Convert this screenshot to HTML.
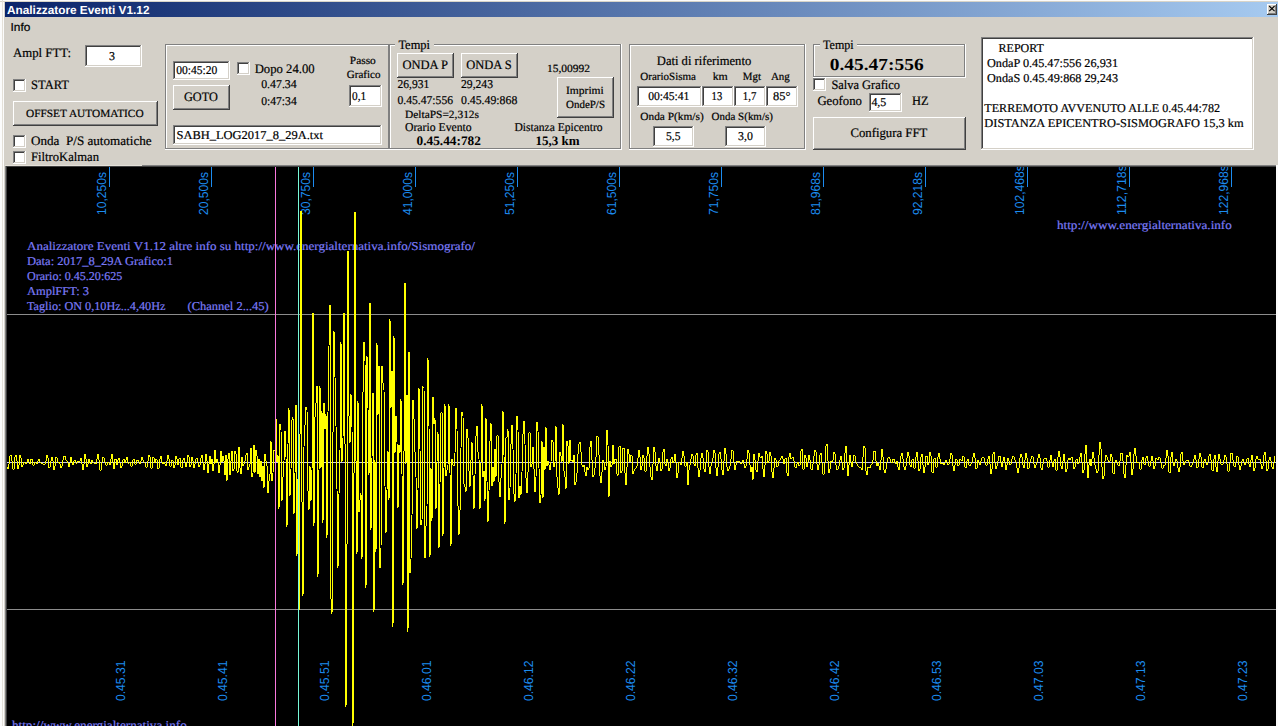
<!DOCTYPE html>
<html><head><meta charset="utf-8"><title>Analizzatore Eventi</title>
<style>html,body{margin:0;padding:0;overflow:hidden;background:#f2f2f2;width:1278px;height:726px} svg{display:block} text{shape-rendering:auto}</style>
</head><body>
<svg width="1278" height="726" viewBox="0 0 1278 726" shape-rendering="crispEdges" text-rendering="geometricPrecision"><rect x="0" y="0" width="1278" height="726" fill="#fbfbfb"/>
<rect x="0" y="1" width="1278" height="1" fill="#d8d4c8"/>
<rect x="2" y="0" width="1" height="726" fill="#e4e0d8"/>
<rect x="4" y="2" width="1" height="724" fill="#d4d0c8"/>
<rect x="5" y="2" width="1273" height="724" fill="#d4d0c8"/>
<defs><linearGradient id="tg" x1="0" x2="1" y1="0" y2="0"><stop offset="0" stop-color="#0a246a"/><stop offset="1" stop-color="#a6caf0"/></linearGradient></defs>
<rect x="5" y="2" width="1273" height="15" fill="url(#tg)"/>
<text x="7.0" y="13.8" font-family="Liberation Sans" font-size="11.8" font-weight="700" fill="#fff" textLength="142.5" lengthAdjust="spacingAndGlyphs">Analizzatore Eventi V1.12</text>
<rect x="1267" y="4" width="10" height="11" fill="#d4d0c8"/>
<rect x="1267" y="4" width="10" height="1" fill="#ffffff"/>
<rect x="1267" y="4" width="1" height="11" fill="#ffffff"/>
<rect x="1267" y="14" width="10" height="1" fill="#404040"/>
<rect x="1276" y="4" width="1" height="11" fill="#404040"/>
<rect x="1268" y="13" width="8" height="1" fill="#808080"/>
<rect x="1275" y="5" width="1" height="9" fill="#808080"/>
<path d="M1269.2 6 L1274.6 11.2 M1274.6 6 L1269.2 11.2" stroke="#000" stroke-width="1.05" shape-rendering="auto"/>
<text x="10.5" y="31.0" font-family="Liberation Sans" font-size="11.5" font-weight="400" fill="#000" stroke="#000" stroke-width="0.2" textLength="19.8" lengthAdjust="spacingAndGlyphs">Info</text>
<text x="13.0" y="57.0" font-family="Liberation Serif" font-size="13" font-weight="400" fill="#000" stroke="#000" stroke-width="0.2" textLength="58.0" lengthAdjust="spacingAndGlyphs">Ampl FTT:</text>
<rect x="85" y="45" width="57" height="22" fill="#fff"/>
<rect x="85" y="45" width="57" height="1" fill="#808080"/>
<rect x="85" y="45" width="1" height="22" fill="#808080"/>
<rect x="86" y="46" width="55" height="1" fill="#404040"/>
<rect x="86" y="46" width="1" height="20" fill="#404040"/>
<rect x="85" y="66" width="57" height="1" fill="#ffffff"/>
<rect x="141" y="45" width="1" height="22" fill="#ffffff"/>
<rect x="86" y="65" width="55" height="1" fill="#d4d0c8"/>
<rect x="140" y="46" width="1" height="20" fill="#d4d0c8"/>
<text x="109.0" y="60.0" font-family="Liberation Serif" font-size="12" font-weight="400" fill="#000" stroke="#000" stroke-width="0.2">3</text>
<rect x="13" y="79" width="13" height="13" fill="#fff"/>
<rect x="13" y="79" width="13" height="1" fill="#808080"/>
<rect x="13" y="79" width="1" height="13" fill="#808080"/>
<rect x="14" y="80" width="11" height="1" fill="#404040"/>
<rect x="14" y="80" width="1" height="11" fill="#404040"/>
<rect x="13" y="91" width="13" height="1" fill="#ffffff"/>
<rect x="25" y="79" width="1" height="13" fill="#ffffff"/>
<rect x="14" y="90" width="11" height="1" fill="#d4d0c8"/>
<rect x="24" y="80" width="1" height="11" fill="#d4d0c8"/>
<text x="31.0" y="88.5" font-family="Liberation Serif" font-size="13" font-weight="400" fill="#000" stroke="#000" stroke-width="0.2" textLength="38.0" lengthAdjust="spacingAndGlyphs">START</text>
<rect x="13" y="101" width="145" height="25" fill="#d4d0c8"/>
<rect x="13" y="101" width="145" height="1" fill="#ffffff"/>
<rect x="13" y="101" width="1" height="25" fill="#ffffff"/>
<rect x="13" y="125" width="145" height="1" fill="#404040"/>
<rect x="157" y="101" width="1" height="25" fill="#404040"/>
<rect x="14" y="124" width="143" height="1" fill="#808080"/>
<rect x="156" y="102" width="1" height="23" fill="#808080"/>
<text x="26.0" y="116.5" font-family="Liberation Serif" font-size="11" font-weight="400" fill="#000" stroke="#000" stroke-width="0.2" textLength="117.6" lengthAdjust="spacingAndGlyphs">OFFSET AUTOMATICO</text>
<rect x="13" y="135" width="13" height="13" fill="#fff"/>
<rect x="13" y="135" width="13" height="1" fill="#808080"/>
<rect x="13" y="135" width="1" height="13" fill="#808080"/>
<rect x="14" y="136" width="11" height="1" fill="#404040"/>
<rect x="14" y="136" width="1" height="11" fill="#404040"/>
<rect x="13" y="147" width="13" height="1" fill="#ffffff"/>
<rect x="25" y="135" width="1" height="13" fill="#ffffff"/>
<rect x="14" y="146" width="11" height="1" fill="#d4d0c8"/>
<rect x="24" y="136" width="1" height="11" fill="#d4d0c8"/>
<text x="31.0" y="144.6" font-family="Liberation Serif" font-size="13" font-weight="400" fill="#000" stroke="#000" stroke-width="0.2" textLength="120.6" lengthAdjust="spacingAndGlyphs">Onda  P/S automatiche</text>
<rect x="13" y="151" width="13" height="13" fill="#fff"/>
<rect x="13" y="151" width="13" height="1" fill="#808080"/>
<rect x="13" y="151" width="1" height="13" fill="#808080"/>
<rect x="14" y="152" width="11" height="1" fill="#404040"/>
<rect x="14" y="152" width="1" height="11" fill="#404040"/>
<rect x="13" y="163" width="13" height="1" fill="#ffffff"/>
<rect x="25" y="151" width="1" height="13" fill="#ffffff"/>
<rect x="14" y="162" width="11" height="1" fill="#d4d0c8"/>
<rect x="24" y="152" width="1" height="11" fill="#d4d0c8"/>
<text x="31.0" y="161.2" font-family="Liberation Serif" font-size="13" font-weight="400" fill="#000" stroke="#000" stroke-width="0.2" textLength="68.0" lengthAdjust="spacingAndGlyphs">FiltroKalman</text>
<rect x="165" y="44" width="224" height="1" fill="#808080"/>
<rect x="165" y="44" width="1" height="105" fill="#808080"/>
<rect x="165" y="148" width="224" height="1" fill="#808080"/>
<rect x="388" y="44" width="1" height="105" fill="#808080"/>
<rect x="166" y="45" width="222" height="1" fill="#ffffff"/>
<rect x="166" y="45" width="1" height="103" fill="#ffffff"/>
<rect x="165" y="149" width="225" height="1" fill="#ffffff"/>
<rect x="389" y="44" width="1" height="106" fill="#ffffff"/>
<rect x="173" y="61" width="57" height="19" fill="#fff"/>
<rect x="173" y="61" width="57" height="1" fill="#808080"/>
<rect x="173" y="61" width="1" height="19" fill="#808080"/>
<rect x="174" y="62" width="55" height="1" fill="#404040"/>
<rect x="174" y="62" width="1" height="17" fill="#404040"/>
<rect x="173" y="79" width="57" height="1" fill="#ffffff"/>
<rect x="229" y="61" width="1" height="19" fill="#ffffff"/>
<rect x="174" y="78" width="55" height="1" fill="#d4d0c8"/>
<rect x="228" y="62" width="1" height="17" fill="#d4d0c8"/>
<text x="176.3" y="74.3" font-family="Liberation Serif" font-size="12" font-weight="400" fill="#000" stroke="#000" stroke-width="0.2" textLength="41.0" lengthAdjust="spacingAndGlyphs">00:45:20</text>
<rect x="173" y="85" width="57" height="25" fill="#d4d0c8"/>
<rect x="173" y="85" width="57" height="1" fill="#ffffff"/>
<rect x="173" y="85" width="1" height="25" fill="#ffffff"/>
<rect x="173" y="109" width="57" height="1" fill="#404040"/>
<rect x="229" y="85" width="1" height="25" fill="#404040"/>
<rect x="174" y="108" width="55" height="1" fill="#808080"/>
<rect x="228" y="86" width="1" height="23" fill="#808080"/>
<text x="184.0" y="100.8" font-family="Liberation Serif" font-size="13" font-weight="400" fill="#000" stroke="#000" stroke-width="0.2" textLength="33.8" lengthAdjust="spacingAndGlyphs">GOTO</text>
<rect x="237" y="62" width="13" height="13" fill="#fff"/>
<rect x="237" y="62" width="13" height="1" fill="#808080"/>
<rect x="237" y="62" width="1" height="13" fill="#808080"/>
<rect x="238" y="63" width="11" height="1" fill="#404040"/>
<rect x="238" y="63" width="1" height="11" fill="#404040"/>
<rect x="237" y="74" width="13" height="1" fill="#ffffff"/>
<rect x="249" y="62" width="1" height="13" fill="#ffffff"/>
<rect x="238" y="73" width="11" height="1" fill="#d4d0c8"/>
<rect x="248" y="63" width="1" height="11" fill="#d4d0c8"/>
<text x="254.7" y="72.8" font-family="Liberation Serif" font-size="13" font-weight="400" fill="#000" stroke="#000" stroke-width="0.2" textLength="59.9" lengthAdjust="spacingAndGlyphs">Dopo 24.00</text>
<text x="261.2" y="88.4" font-family="Liberation Serif" font-size="12" font-weight="400" fill="#000" stroke="#000" stroke-width="0.2" textLength="35.5" lengthAdjust="spacingAndGlyphs">0.47.34</text>
<text x="261.2" y="104.6" font-family="Liberation Serif" font-size="12" font-weight="400" fill="#000" stroke="#000" stroke-width="0.2" textLength="35.5" lengthAdjust="spacingAndGlyphs">0:47:34</text>
<text x="349.8" y="63.8" font-family="Liberation Serif" font-size="11" font-weight="400" fill="#000" stroke="#000" stroke-width="0.2" textLength="26.0" lengthAdjust="spacingAndGlyphs">Passo</text>
<text x="346.8" y="77.5" font-family="Liberation Serif" font-size="11" font-weight="400" fill="#000" stroke="#000" stroke-width="0.2" textLength="33.7" lengthAdjust="spacingAndGlyphs">Grafico</text>
<rect x="349" y="85" width="33" height="22" fill="#fff"/>
<rect x="349" y="85" width="33" height="1" fill="#808080"/>
<rect x="349" y="85" width="1" height="22" fill="#808080"/>
<rect x="350" y="86" width="31" height="1" fill="#404040"/>
<rect x="350" y="86" width="1" height="20" fill="#404040"/>
<rect x="349" y="106" width="33" height="1" fill="#ffffff"/>
<rect x="381" y="85" width="1" height="22" fill="#ffffff"/>
<rect x="350" y="105" width="31" height="1" fill="#d4d0c8"/>
<rect x="380" y="86" width="1" height="20" fill="#d4d0c8"/>
<text x="352.1" y="99.6" font-family="Liberation Serif" font-size="12" font-weight="400" fill="#000" stroke="#000" stroke-width="0.2" textLength="14.1" lengthAdjust="spacingAndGlyphs">0,1</text>
<rect x="173" y="125" width="209" height="20" fill="#fff"/>
<rect x="173" y="125" width="209" height="1" fill="#808080"/>
<rect x="173" y="125" width="1" height="20" fill="#808080"/>
<rect x="174" y="126" width="207" height="1" fill="#404040"/>
<rect x="174" y="126" width="1" height="18" fill="#404040"/>
<rect x="173" y="144" width="209" height="1" fill="#ffffff"/>
<rect x="381" y="125" width="1" height="20" fill="#ffffff"/>
<rect x="174" y="143" width="207" height="1" fill="#d4d0c8"/>
<rect x="380" y="126" width="1" height="18" fill="#d4d0c8"/>
<text x="176.5" y="138.5" font-family="Liberation Serif" font-size="12" font-weight="400" fill="#000" stroke="#000" stroke-width="0.2" textLength="146.5" lengthAdjust="spacingAndGlyphs">SABH_LOG2017_8_29A.txt</text>
<rect x="389" y="44" width="232" height="1" fill="#808080"/>
<rect x="389" y="44" width="1" height="105" fill="#808080"/>
<rect x="389" y="148" width="232" height="1" fill="#808080"/>
<rect x="620" y="44" width="1" height="105" fill="#808080"/>
<rect x="390" y="45" width="230" height="1" fill="#ffffff"/>
<rect x="390" y="45" width="1" height="103" fill="#ffffff"/>
<rect x="389" y="149" width="233" height="1" fill="#ffffff"/>
<rect x="621" y="44" width="1" height="106" fill="#ffffff"/>
<rect x="395" y="38" width="39" height="10" fill="#d4d0c8"/>
<text x="398.4" y="48.9" font-family="Liberation Serif" font-size="13" font-weight="400" fill="#000" stroke="#000" stroke-width="0.2" textLength="31.6" lengthAdjust="spacingAndGlyphs">Tempi</text>
<rect x="397" y="53" width="57" height="25" fill="#d4d0c8"/>
<rect x="397" y="53" width="57" height="1" fill="#ffffff"/>
<rect x="397" y="53" width="1" height="25" fill="#ffffff"/>
<rect x="397" y="77" width="57" height="1" fill="#404040"/>
<rect x="453" y="53" width="1" height="25" fill="#404040"/>
<rect x="398" y="76" width="55" height="1" fill="#808080"/>
<rect x="452" y="54" width="1" height="23" fill="#808080"/>
<text x="402.4" y="68.8" font-family="Liberation Serif" font-size="13" font-weight="400" fill="#000" stroke="#000" stroke-width="0.2" textLength="45.6" lengthAdjust="spacingAndGlyphs">ONDA P</text>
<rect x="461" y="53" width="57" height="25" fill="#d4d0c8"/>
<rect x="461" y="53" width="57" height="1" fill="#ffffff"/>
<rect x="461" y="53" width="1" height="25" fill="#ffffff"/>
<rect x="461" y="77" width="57" height="1" fill="#404040"/>
<rect x="517" y="53" width="1" height="25" fill="#404040"/>
<rect x="462" y="76" width="55" height="1" fill="#808080"/>
<rect x="516" y="54" width="1" height="23" fill="#808080"/>
<text x="466.2" y="68.8" font-family="Liberation Serif" font-size="13" font-weight="400" fill="#000" stroke="#000" stroke-width="0.2" textLength="45.5" lengthAdjust="spacingAndGlyphs">ONDA S</text>
<text x="397.5" y="87.8" font-family="Liberation Serif" font-size="12" font-weight="400" fill="#000" stroke="#000" stroke-width="0.2" textLength="31.7" lengthAdjust="spacingAndGlyphs">26,931</text>
<text x="461.0" y="87.6" font-family="Liberation Serif" font-size="12" font-weight="400" fill="#000" stroke="#000" stroke-width="0.2" textLength="32.0" lengthAdjust="spacingAndGlyphs">29,243</text>
<text x="546.9" y="71.7" font-family="Liberation Serif" font-size="11" font-weight="400" fill="#000" stroke="#000" stroke-width="0.2" textLength="43.1" lengthAdjust="spacingAndGlyphs">15,00992</text>
<text x="397.5" y="103.6" font-family="Liberation Serif" font-size="12" font-weight="400" fill="#000" stroke="#000" stroke-width="0.2" textLength="55.5" lengthAdjust="spacingAndGlyphs">0.45.47:556</text>
<text x="461.0" y="103.7" font-family="Liberation Serif" font-size="12" font-weight="400" fill="#000" stroke="#000" stroke-width="0.2" textLength="56.3" lengthAdjust="spacingAndGlyphs">0.45.49:868</text>
<rect x="557" y="77" width="57" height="41" fill="#d4d0c8"/>
<rect x="557" y="77" width="57" height="1" fill="#ffffff"/>
<rect x="557" y="77" width="1" height="41" fill="#ffffff"/>
<rect x="557" y="117" width="57" height="1" fill="#404040"/>
<rect x="613" y="77" width="1" height="41" fill="#404040"/>
<rect x="558" y="116" width="55" height="1" fill="#808080"/>
<rect x="612" y="78" width="1" height="39" fill="#808080"/>
<text x="566.0" y="93.8" font-family="Liberation Serif" font-size="11" font-weight="400" fill="#000" stroke="#000" stroke-width="0.2" textLength="37.8" lengthAdjust="spacingAndGlyphs">Imprimi</text>
<text x="566.0" y="107.6" font-family="Liberation Serif" font-size="11" font-weight="400" fill="#000" stroke="#000" stroke-width="0.2" textLength="39.0" lengthAdjust="spacingAndGlyphs">OndeP/S</text>
<text x="405.0" y="117.6" font-family="Liberation Serif" font-size="11" font-weight="400" fill="#000" stroke="#000" stroke-width="0.2" textLength="74.0" lengthAdjust="spacingAndGlyphs">DeltaPS=2,312s</text>
<text x="405.0" y="131.0" font-family="Liberation Serif" font-size="12" font-weight="400" fill="#000" stroke="#000" stroke-width="0.2" textLength="66.7" lengthAdjust="spacingAndGlyphs">Orario Evento</text>
<text x="416.6" y="144.5" font-family="Liberation Serif" font-size="13" font-weight="700" fill="#000" textLength="64.3" lengthAdjust="spacingAndGlyphs">0.45.44:782</text>
<text x="514.4" y="131.0" font-family="Liberation Serif" font-size="12" font-weight="400" fill="#000" stroke="#000" stroke-width="0.2" textLength="88.2" lengthAdjust="spacingAndGlyphs">Distanza Epicentro</text>
<text x="535.5" y="144.5" font-family="Liberation Serif" font-size="13" font-weight="700" fill="#000" textLength="44.1" lengthAdjust="spacingAndGlyphs">15,3 km</text>
<rect x="629" y="44" width="176" height="1" fill="#808080"/>
<rect x="629" y="44" width="1" height="105" fill="#808080"/>
<rect x="629" y="148" width="176" height="1" fill="#808080"/>
<rect x="804" y="44" width="1" height="105" fill="#808080"/>
<rect x="630" y="45" width="174" height="1" fill="#ffffff"/>
<rect x="630" y="45" width="1" height="103" fill="#ffffff"/>
<rect x="629" y="149" width="177" height="1" fill="#ffffff"/>
<rect x="805" y="44" width="1" height="106" fill="#ffffff"/>
<text x="656.8" y="64.9" font-family="Liberation Serif" font-size="13" font-weight="400" fill="#000" stroke="#000" stroke-width="0.2" textLength="94.4" lengthAdjust="spacingAndGlyphs">Dati di riferimento</text>
<text x="640.3" y="79.6" font-family="Liberation Serif" font-size="11" font-weight="400" fill="#000" stroke="#000" stroke-width="0.2" textLength="55.7" lengthAdjust="spacingAndGlyphs">OrarioSisma</text>
<text x="712.7" y="79.6" font-family="Liberation Serif" font-size="11" font-weight="400" fill="#000" stroke="#000" stroke-width="0.2" textLength="15.1" lengthAdjust="spacingAndGlyphs">km</text>
<text x="742.8" y="79.6" font-family="Liberation Serif" font-size="11" font-weight="400" fill="#000" stroke="#000" stroke-width="0.2" textLength="18.2" lengthAdjust="spacingAndGlyphs">Mgt</text>
<text x="770.9" y="79.6" font-family="Liberation Serif" font-size="11" font-weight="400" fill="#000" stroke="#000" stroke-width="0.2" textLength="19.0" lengthAdjust="spacingAndGlyphs">Ang</text>
<rect x="637" y="86" width="65" height="21" fill="#fff"/>
<rect x="637" y="86" width="65" height="1" fill="#808080"/>
<rect x="637" y="86" width="1" height="21" fill="#808080"/>
<rect x="638" y="87" width="63" height="1" fill="#404040"/>
<rect x="638" y="87" width="1" height="19" fill="#404040"/>
<rect x="637" y="106" width="65" height="1" fill="#ffffff"/>
<rect x="701" y="86" width="1" height="21" fill="#ffffff"/>
<rect x="638" y="105" width="63" height="1" fill="#d4d0c8"/>
<rect x="700" y="87" width="1" height="19" fill="#d4d0c8"/>
<rect x="702" y="86" width="32" height="21" fill="#fff"/>
<rect x="702" y="86" width="32" height="1" fill="#808080"/>
<rect x="702" y="86" width="1" height="21" fill="#808080"/>
<rect x="703" y="87" width="30" height="1" fill="#404040"/>
<rect x="703" y="87" width="1" height="19" fill="#404040"/>
<rect x="702" y="106" width="32" height="1" fill="#ffffff"/>
<rect x="733" y="86" width="1" height="21" fill="#ffffff"/>
<rect x="703" y="105" width="30" height="1" fill="#d4d0c8"/>
<rect x="732" y="87" width="1" height="19" fill="#d4d0c8"/>
<rect x="734" y="86" width="32" height="21" fill="#fff"/>
<rect x="734" y="86" width="32" height="1" fill="#808080"/>
<rect x="734" y="86" width="1" height="21" fill="#808080"/>
<rect x="735" y="87" width="30" height="1" fill="#404040"/>
<rect x="735" y="87" width="1" height="19" fill="#404040"/>
<rect x="734" y="106" width="32" height="1" fill="#ffffff"/>
<rect x="765" y="86" width="1" height="21" fill="#ffffff"/>
<rect x="735" y="105" width="30" height="1" fill="#d4d0c8"/>
<rect x="764" y="87" width="1" height="19" fill="#d4d0c8"/>
<rect x="766" y="86" width="32" height="21" fill="#fff"/>
<rect x="766" y="86" width="32" height="1" fill="#808080"/>
<rect x="766" y="86" width="1" height="21" fill="#808080"/>
<rect x="767" y="87" width="30" height="1" fill="#404040"/>
<rect x="767" y="87" width="1" height="19" fill="#404040"/>
<rect x="766" y="106" width="32" height="1" fill="#ffffff"/>
<rect x="797" y="86" width="1" height="21" fill="#ffffff"/>
<rect x="767" y="105" width="30" height="1" fill="#d4d0c8"/>
<rect x="796" y="87" width="1" height="19" fill="#d4d0c8"/>
<text x="648.2" y="99.9" font-family="Liberation Serif" font-size="12" font-weight="400" fill="#000" stroke="#000" stroke-width="0.2" textLength="41.2" lengthAdjust="spacingAndGlyphs">00:45:41</text>
<text x="711.6" y="99.9" font-family="Liberation Serif" font-size="12" font-weight="400" fill="#000" stroke="#000" stroke-width="0.2" textLength="10.6" lengthAdjust="spacingAndGlyphs">13</text>
<text x="742.8" y="99.9" font-family="Liberation Serif" font-size="12" font-weight="400" fill="#000" stroke="#000" stroke-width="0.2" textLength="13.5" lengthAdjust="spacingAndGlyphs">1,7</text>
<text x="773.0" y="99.9" font-family="Liberation Serif" font-size="12" font-weight="400" fill="#000" stroke="#000" stroke-width="0.2" textLength="17.4" lengthAdjust="spacingAndGlyphs">85°</text>
<text x="640.3" y="120.0" font-family="Liberation Serif" font-size="11" font-weight="400" fill="#000" stroke="#000" stroke-width="0.2" textLength="63.4" lengthAdjust="spacingAndGlyphs">Onda P(km/s)</text>
<text x="711.6" y="120.0" font-family="Liberation Serif" font-size="11" font-weight="400" fill="#000" stroke="#000" stroke-width="0.2" textLength="61.3" lengthAdjust="spacingAndGlyphs">Onda S(km/s)</text>
<rect x="653" y="126" width="41" height="21" fill="#fff"/>
<rect x="653" y="126" width="41" height="1" fill="#808080"/>
<rect x="653" y="126" width="1" height="21" fill="#808080"/>
<rect x="654" y="127" width="39" height="1" fill="#404040"/>
<rect x="654" y="127" width="1" height="19" fill="#404040"/>
<rect x="653" y="146" width="41" height="1" fill="#ffffff"/>
<rect x="693" y="126" width="1" height="21" fill="#ffffff"/>
<rect x="654" y="145" width="39" height="1" fill="#d4d0c8"/>
<rect x="692" y="127" width="1" height="19" fill="#d4d0c8"/>
<text x="666.0" y="140.2" font-family="Liberation Serif" font-size="12" font-weight="400" fill="#000" stroke="#000" stroke-width="0.2" textLength="14.5" lengthAdjust="spacingAndGlyphs">5,5</text>
<rect x="725" y="126" width="41" height="21" fill="#fff"/>
<rect x="725" y="126" width="41" height="1" fill="#808080"/>
<rect x="725" y="126" width="1" height="21" fill="#808080"/>
<rect x="726" y="127" width="39" height="1" fill="#404040"/>
<rect x="726" y="127" width="1" height="19" fill="#404040"/>
<rect x="725" y="146" width="41" height="1" fill="#ffffff"/>
<rect x="765" y="126" width="1" height="21" fill="#ffffff"/>
<rect x="726" y="145" width="39" height="1" fill="#d4d0c8"/>
<rect x="764" y="127" width="1" height="19" fill="#d4d0c8"/>
<text x="738.0" y="140.2" font-family="Liberation Serif" font-size="12" font-weight="400" fill="#000" stroke="#000" stroke-width="0.2" textLength="14.8" lengthAdjust="spacingAndGlyphs">3,0</text>
<rect x="813" y="44" width="152" height="1" fill="#808080"/>
<rect x="813" y="44" width="1" height="33" fill="#808080"/>
<rect x="813" y="76" width="152" height="1" fill="#808080"/>
<rect x="964" y="44" width="1" height="33" fill="#808080"/>
<rect x="814" y="45" width="150" height="1" fill="#ffffff"/>
<rect x="814" y="45" width="1" height="31" fill="#ffffff"/>
<rect x="813" y="77" width="153" height="1" fill="#ffffff"/>
<rect x="965" y="44" width="1" height="34" fill="#ffffff"/>
<rect x="820" y="38" width="37" height="10" fill="#d4d0c8"/>
<text x="823.1" y="49.0" font-family="Liberation Serif" font-size="13" font-weight="400" fill="#000" stroke="#000" stroke-width="0.2" textLength="30.6" lengthAdjust="spacingAndGlyphs">Tempi</text>
<text x="829.8" y="69.7" font-family="Liberation Serif" font-size="17" font-weight="700" fill="#000" textLength="93.8" lengthAdjust="spacingAndGlyphs">0.45.47:556</text>
<rect x="813" y="78" width="13" height="13" fill="#fff"/>
<rect x="813" y="78" width="13" height="1" fill="#808080"/>
<rect x="813" y="78" width="1" height="13" fill="#808080"/>
<rect x="814" y="79" width="11" height="1" fill="#404040"/>
<rect x="814" y="79" width="1" height="11" fill="#404040"/>
<rect x="813" y="90" width="13" height="1" fill="#ffffff"/>
<rect x="825" y="78" width="1" height="13" fill="#ffffff"/>
<rect x="814" y="89" width="11" height="1" fill="#d4d0c8"/>
<rect x="824" y="79" width="1" height="11" fill="#d4d0c8"/>
<text x="831.4" y="88.7" font-family="Liberation Serif" font-size="13" font-weight="400" fill="#000" stroke="#000" stroke-width="0.2" textLength="68.6" lengthAdjust="spacingAndGlyphs">Salva Grafico</text>
<text x="817.4" y="104.8" font-family="Liberation Serif" font-size="13" font-weight="400" fill="#000" stroke="#000" stroke-width="0.2" textLength="44.6" lengthAdjust="spacingAndGlyphs">Geofono</text>
<rect x="869" y="93" width="33" height="19" fill="#fff"/>
<rect x="869" y="93" width="33" height="1" fill="#808080"/>
<rect x="869" y="93" width="1" height="19" fill="#808080"/>
<rect x="870" y="94" width="31" height="1" fill="#404040"/>
<rect x="870" y="94" width="1" height="17" fill="#404040"/>
<rect x="869" y="111" width="33" height="1" fill="#ffffff"/>
<rect x="901" y="93" width="1" height="19" fill="#ffffff"/>
<rect x="870" y="110" width="31" height="1" fill="#d4d0c8"/>
<rect x="900" y="94" width="1" height="17" fill="#d4d0c8"/>
<text x="871.4" y="106.4" font-family="Liberation Serif" font-size="12" font-weight="400" fill="#000" stroke="#000" stroke-width="0.2" textLength="14.9" lengthAdjust="spacingAndGlyphs">4,5</text>
<text x="912.0" y="104.8" font-family="Liberation Serif" font-size="13" font-weight="400" fill="#000" stroke="#000" stroke-width="0.2" textLength="16.6" lengthAdjust="spacingAndGlyphs">HZ</text>
<rect x="813" y="117" width="153" height="33" fill="#d4d0c8"/>
<rect x="813" y="117" width="153" height="1" fill="#ffffff"/>
<rect x="813" y="117" width="1" height="33" fill="#ffffff"/>
<rect x="813" y="149" width="153" height="1" fill="#404040"/>
<rect x="965" y="117" width="1" height="33" fill="#404040"/>
<rect x="814" y="148" width="151" height="1" fill="#808080"/>
<rect x="964" y="118" width="1" height="31" fill="#808080"/>
<text x="850.4" y="136.7" font-family="Liberation Serif" font-size="13" font-weight="400" fill="#000" stroke="#000" stroke-width="0.2" textLength="76.9" lengthAdjust="spacingAndGlyphs">Configura FFT</text>
<rect x="981" y="37" width="273" height="113" fill="#fff"/>
<rect x="981" y="37" width="273" height="1" fill="#808080"/>
<rect x="981" y="37" width="1" height="113" fill="#808080"/>
<rect x="982" y="38" width="271" height="1" fill="#404040"/>
<rect x="982" y="38" width="1" height="111" fill="#404040"/>
<rect x="981" y="149" width="273" height="1" fill="#ffffff"/>
<rect x="1253" y="37" width="1" height="113" fill="#ffffff"/>
<rect x="982" y="148" width="271" height="1" fill="#d4d0c8"/>
<rect x="1252" y="38" width="1" height="111" fill="#d4d0c8"/>
<text x="998.6" y="51.8" font-family="Liberation Serif" font-size="12" font-weight="400" fill="#000" stroke="#000" stroke-width="0.2">REPORT</text>
<text x="987.0" y="66.7" font-family="Liberation Serif" font-size="12" font-weight="400" fill="#000" stroke="#000" stroke-width="0.2" textLength="131.0" lengthAdjust="spacingAndGlyphs">OndaP 0.45.47:556 26,931</text>
<text x="987.0" y="81.9" font-family="Liberation Serif" font-size="12" font-weight="400" fill="#000" stroke="#000" stroke-width="0.2" textLength="131.0" lengthAdjust="spacingAndGlyphs">OndaS 0.45.49:868 29,243</text>
<text x="984.3" y="112.0" font-family="Liberation Serif" font-size="12" font-weight="400" fill="#000" stroke="#000" stroke-width="0.2" textLength="235.7" lengthAdjust="spacingAndGlyphs">TERREMOTO AVVENUTO ALLE 0.45.44:782</text>
<text x="984.3" y="126.6" font-family="Liberation Serif" font-size="12" font-weight="400" fill="#000" stroke="#000" stroke-width="0.2" textLength="259.4" lengthAdjust="spacingAndGlyphs">DISTANZA EPICENTRO-SISMOGRAFO 15,3 km</text>
<rect x="5" y="165" width="1273" height="561" fill="#808080"/>
<rect x="6" y="166" width="1" height="560" fill="#404040"/>
<rect x="6" y="166" width="1272" height="1" fill="#404040"/>
<rect x="5" y="165" width="137" height="1" fill="#e4e0d8"/>
<rect x="7" y="167" width="1269" height="559" fill="#000"/>
<clipPath id="cc" clipPathUnits="userSpaceOnUse"><rect x="7" y="167" width="1269" height="559"/></clipPath>
<rect x="1276" y="165" width="2" height="561" fill="#fbfbfb"/>
<rect x="7" y="314" width="1269" height="1" fill="#8c8c8c"/>
<rect x="7" y="609" width="1269" height="1" fill="#8c8c8c"/>
<rect x="109" y="167" width="1" height="20" fill="#1c8cf0"/>
<g clip-path="url(#cc)"><text transform="translate(106.4,215) rotate(-90)" font-family="Liberation Sans" font-size="13" fill="#1c8cf0" textLength="43.1" lengthAdjust="spacingAndGlyphs">10,250s</text></g>
<text transform="translate(124.5,701) rotate(-90)" font-family="Liberation Sans" font-size="13" fill="#1c8cf0" textLength="40.4" lengthAdjust="spacingAndGlyphs">0.45.31</text>
<rect x="211" y="167" width="1" height="20" fill="#1c8cf0"/>
<g clip-path="url(#cc)"><text transform="translate(208.4,215) rotate(-90)" font-family="Liberation Sans" font-size="13" fill="#1c8cf0" textLength="43.1" lengthAdjust="spacingAndGlyphs">20,500s</text></g>
<text transform="translate(226.5,701) rotate(-90)" font-family="Liberation Sans" font-size="13" fill="#1c8cf0" textLength="40.4" lengthAdjust="spacingAndGlyphs">0.45.41</text>
<rect x="313" y="167" width="1" height="20" fill="#1c8cf0"/>
<g clip-path="url(#cc)"><text transform="translate(310.4,215) rotate(-90)" font-family="Liberation Sans" font-size="13" fill="#1c8cf0" textLength="43.1" lengthAdjust="spacingAndGlyphs">30,750s</text></g>
<text transform="translate(328.5,701) rotate(-90)" font-family="Liberation Sans" font-size="13" fill="#1c8cf0" textLength="40.4" lengthAdjust="spacingAndGlyphs">0.45.51</text>
<rect x="415" y="167" width="1" height="20" fill="#1c8cf0"/>
<g clip-path="url(#cc)"><text transform="translate(412.4,215) rotate(-90)" font-family="Liberation Sans" font-size="13" fill="#1c8cf0" textLength="43.1" lengthAdjust="spacingAndGlyphs">41,000s</text></g>
<text transform="translate(430.5,701) rotate(-90)" font-family="Liberation Sans" font-size="13" fill="#1c8cf0" textLength="40.4" lengthAdjust="spacingAndGlyphs">0.46.01</text>
<rect x="517" y="167" width="1" height="20" fill="#1c8cf0"/>
<g clip-path="url(#cc)"><text transform="translate(514.4,215) rotate(-90)" font-family="Liberation Sans" font-size="13" fill="#1c8cf0" textLength="43.1" lengthAdjust="spacingAndGlyphs">51,250s</text></g>
<text transform="translate(532.5,701) rotate(-90)" font-family="Liberation Sans" font-size="13" fill="#1c8cf0" textLength="40.4" lengthAdjust="spacingAndGlyphs">0.46.12</text>
<rect x="619" y="167" width="1" height="20" fill="#1c8cf0"/>
<g clip-path="url(#cc)"><text transform="translate(616.4,215) rotate(-90)" font-family="Liberation Sans" font-size="13" fill="#1c8cf0" textLength="43.1" lengthAdjust="spacingAndGlyphs">61,500s</text></g>
<text transform="translate(634.5,701) rotate(-90)" font-family="Liberation Sans" font-size="13" fill="#1c8cf0" textLength="40.4" lengthAdjust="spacingAndGlyphs">0.46.22</text>
<rect x="721" y="167" width="1" height="20" fill="#1c8cf0"/>
<g clip-path="url(#cc)"><text transform="translate(718.4,215) rotate(-90)" font-family="Liberation Sans" font-size="13" fill="#1c8cf0" textLength="43.1" lengthAdjust="spacingAndGlyphs">71,750s</text></g>
<text transform="translate(736.5,701) rotate(-90)" font-family="Liberation Sans" font-size="13" fill="#1c8cf0" textLength="40.4" lengthAdjust="spacingAndGlyphs">0.46.32</text>
<rect x="823" y="167" width="1" height="20" fill="#1c8cf0"/>
<g clip-path="url(#cc)"><text transform="translate(820.4,215) rotate(-90)" font-family="Liberation Sans" font-size="13" fill="#1c8cf0" textLength="43.1" lengthAdjust="spacingAndGlyphs">81,968s</text></g>
<text transform="translate(838.5,701) rotate(-90)" font-family="Liberation Sans" font-size="13" fill="#1c8cf0" textLength="40.4" lengthAdjust="spacingAndGlyphs">0.46.42</text>
<rect x="925" y="167" width="1" height="20" fill="#1c8cf0"/>
<g clip-path="url(#cc)"><text transform="translate(922.4,215) rotate(-90)" font-family="Liberation Sans" font-size="13" fill="#1c8cf0" textLength="43.1" lengthAdjust="spacingAndGlyphs">92,218s</text></g>
<text transform="translate(940.5,701) rotate(-90)" font-family="Liberation Sans" font-size="13" fill="#1c8cf0" textLength="40.4" lengthAdjust="spacingAndGlyphs">0.46.53</text>
<rect x="1027" y="167" width="1" height="20" fill="#1c8cf0"/>
<g clip-path="url(#cc)"><text transform="translate(1024.4,215) rotate(-90)" font-family="Liberation Sans" font-size="13" fill="#1c8cf0" textLength="49.8" lengthAdjust="spacingAndGlyphs">102,468s</text></g>
<text transform="translate(1042.5,701) rotate(-90)" font-family="Liberation Sans" font-size="13" fill="#1c8cf0" textLength="40.4" lengthAdjust="spacingAndGlyphs">0.47.03</text>
<rect x="1129" y="167" width="1" height="20" fill="#1c8cf0"/>
<g clip-path="url(#cc)"><text transform="translate(1126.4,215) rotate(-90)" font-family="Liberation Sans" font-size="13" fill="#1c8cf0" textLength="49.8" lengthAdjust="spacingAndGlyphs">112,718s</text></g>
<text transform="translate(1144.5,701) rotate(-90)" font-family="Liberation Sans" font-size="13" fill="#1c8cf0" textLength="40.4" lengthAdjust="spacingAndGlyphs">0.47.13</text>
<rect x="1231" y="167" width="1" height="20" fill="#1c8cf0"/>
<g clip-path="url(#cc)"><text transform="translate(1228.4,215) rotate(-90)" font-family="Liberation Sans" font-size="13" fill="#1c8cf0" textLength="49.8" lengthAdjust="spacingAndGlyphs">122,968s</text></g>
<text transform="translate(1246.5,701) rotate(-90)" font-family="Liberation Sans" font-size="13" fill="#1c8cf0" textLength="40.4" lengthAdjust="spacingAndGlyphs">0.47.23</text>
<text x="27.0" y="250.4" font-family="Liberation Serif" font-size="12" font-weight="400" fill="#7b7bf7" stroke="#7b7bf7" stroke-width="0.2" textLength="448.0" lengthAdjust="spacingAndGlyphs">Analizzatore Eventi V1.12 altre info su http://www.energialternativa.info/Sismografo/</text>
<text x="27.0" y="265.4" font-family="Liberation Serif" font-size="12" font-weight="400" fill="#7b7bf7" stroke="#7b7bf7" stroke-width="0.2" textLength="146.0" lengthAdjust="spacingAndGlyphs">Data: 2017_8_29A Grafico:1</text>
<text x="27.0" y="280.4" font-family="Liberation Serif" font-size="12" font-weight="400" fill="#7b7bf7" stroke="#7b7bf7" stroke-width="0.2" textLength="95.3" lengthAdjust="spacingAndGlyphs">Orario: 0.45.20:625</text>
<text x="27.0" y="295.4" font-family="Liberation Serif" font-size="12" font-weight="400" fill="#7b7bf7" stroke="#7b7bf7" stroke-width="0.2" textLength="62.0" lengthAdjust="spacingAndGlyphs">AmplFFT: 3</text>
<text x="27.0" y="310.4" font-family="Liberation Serif" font-size="12" font-weight="400" fill="#7b7bf7" stroke="#7b7bf7" stroke-width="0.2" textLength="138.4" lengthAdjust="spacingAndGlyphs">Taglio: ON 0,10Hz...4,40Hz</text>
<text x="187.5" y="310.4" font-family="Liberation Serif" font-size="12" font-weight="400" fill="#7b7bf7" stroke="#7b7bf7" stroke-width="0.2" textLength="81.2" lengthAdjust="spacingAndGlyphs">(Channel 2...45)</text>
<text x="1057.0" y="228.6" font-family="Liberation Serif" font-size="12" font-weight="400" fill="#7b7bf7" stroke="#7b7bf7" stroke-width="0.2" textLength="174.8" lengthAdjust="spacingAndGlyphs">http://www.energialternativa.info</text>
<text x="12.0" y="729.0" font-family="Liberation Serif" font-size="12" font-weight="400" fill="#7b7bf7" stroke="#7b7bf7" stroke-width="0.2" textLength="174.7" lengthAdjust="spacingAndGlyphs">http://www.energialternativa.info</text>
<rect x="7" y="462" width="1269" height="1" fill="#c8c8e8"/>
<polyline points="7,467 8,469 9,464 10,456 11,455 12,461 13,469 14,469 15,457 16,455 17,461 18,469 19,465 20,455 21,458 22,467 23,465 24,462 25,463 26,464 27,462 28,459 29,462 30,464 31,459 32,459 33,465 34,465 35,462 36,463 37,464 38,461 39,459 40,462 41,463 42,463 43,464 44,465 45,464 46,461 47,455 48,458 49,468 50,467 51,461 52,457 53,461 54,470 55,466 56,457 57,458 58,462 59,462 60,464 61,468 62,466 63,460 64,456 65,456 66,460 67,461 68,463 69,467 70,463 71,457 72,462 73,465 74,461 75,460 76,463 77,463 78,461 79,462 80,461 81,458 82,464 83,470 84,464 85,454 86,459 87,467 88,464 89,459 90,463 91,464 92,460 93,462 94,463 95,463 96,464 97,459 98,454 99,460 100,470 101,470 102,462 103,457 104,458 105,462 106,465 107,465 108,462 109,463 110,465 111,459 112,454 113,463 114,469 115,459 116,459 117,465 118,460 119,458 120,463 121,468 122,466 123,460 124,459 125,463 126,460 127,457 128,463 129,463 130,462 131,466 132,466 133,460 134,459 135,464 136,464 137,460 138,460 139,462 140,464 141,461 142,457 143,460 144,462 145,463 146,467 147,467 148,461 149,455 150,457 151,468 152,468 153,457 154,458 155,463 156,459 157,460 158,469 159,468 160,459 161,456 162,462 163,464 164,462 165,464 166,466 167,461 168,455 169,459 170,466 171,466 172,460 173,461 174,468 175,465 176,456 177,459 178,465 179,459 180,458 181,467 182,468 183,460 184,458 185,462 186,467 187,463 188,455 189,457 190,467 191,465 192,457 193,461 194,468 195,464 196,459 197,458 198,462 199,467 200,465 201,458 202,455 203,462 204,470 205,464 206,454 207,461 208,473 209,464 210,456 211,464 212,459 213,471 214,464 215,450 216,463 217,459 218,462 219,473 220,465 221,451 222,462 223,456 224,461 225,475 226,455 227,481 228,459 229,453 230,475 231,461 232,451 233,471 234,469 235,451 236,454 237,471 238,473 239,447 240,468 241,474 242,457 243,466 244,464 245,461 246,455 247,453 248,470 249,467 250,464 251,448 252,477 253,473 254,445 255,473 256,450 257,456 258,474 259,459 260,477 261,461 262,481 263,466 264,488 265,454 266,461 267,466 268,493 269,481 270,474 271,441 272,481 273,473 274,450 275,451 276,418 277,462 278,455 279,509 280,424 281,430 282,501 283,477 284,461 285,431 286,457 287,527 288,444 289,408 290,496 291,469 292,420 293,417 294,514 295,474 296,405 297,556 298,479 299,612 300,437 301,211 302,502 303,596 304,447 305,425 306,407 307,410 308,491 309,510 310,466 311,501 312,472 313,313 314,526 315,417 316,403 317,386 318,577 319,471 320,386 321,468 322,411 323,523 324,403 325,429 326,414 327,538 328,413 329,346 330,305 331,599 332,614 333,433 334,331 335,377 336,426 337,489 338,568 339,494 340,451 341,342 342,462 343,439 344,313 345,444 346,707 347,548 348,251 349,416 350,443 351,394 352,427 353,726 354,476 355,212 356,461 357,554 358,401 359,512 360,500 361,493 362,559 363,392 364,342 365,361 366,588 367,356 368,408 369,475 370,303 371,530 372,458 373,393 374,612 375,460 376,552 377,343 378,415 379,366 380,568 381,550 382,366 383,383 384,390 385,486 386,533 387,490 388,451 389,500 390,319 391,408 392,371 393,627 394,336 395,453 396,416 397,442 398,508 399,445 400,453 401,399 402,474 403,585 404,453 405,283 406,464 407,395 408,632 409,352 410,573 411,559 412,517 413,400 414,419 415,452 416,477 417,529 418,491 419,388 420,449 421,525 422,522 423,387 424,388 425,558 426,526 427,508 428,358 429,426 430,557 431,468 432,521 433,397 434,424 435,418 436,509 437,462 438,432 439,548 440,484 441,413 442,412 443,536 444,468 445,404 446,476 447,470 448,465 449,404 450,473 451,546 452,459 453,465 454,466 455,453 456,408 457,429 458,506 459,535 460,511 461,448 462,412 463,416 464,484 465,487 466,492 467,429 468,438 469,471 470,487 471,460 472,442 473,475 474,509 475,475 476,436 477,426 478,452 479,459 480,509 481,463 482,404 483,477 484,471 485,501 486,418 487,481 488,522 489,491 490,441 491,423 492,486 493,467 494,482 495,449 496,477 497,436 498,435 499,482 500,497 501,478 502,464 503,411 504,455 505,524 506,438 507,437 508,429 509,500 510,488 511,444 512,425 513,449 514,494 515,502 516,474 517,416 518,430 519,498 520,486 521,495 522,472 523,434 524,421 525,444 526,478 527,493 528,473 529,433 530,432 531,467 532,464 533,447 534,469 535,492 536,477 537,422 538,431 539,468 540,503 541,495 542,441 543,498 544,447 545,470 546,427 547,466 548,461 549,465 550,470 551,462 552,440 553,442 554,467 555,462 556,426 557,477 558,488 559,495 560,452 561,456 562,462 563,424 564,471 565,477 566,489 567,441 568,446 569,464 570,440 571,461 572,460 573,462 574,455 575,485 576,482 577,473 578,454 579,444 580,442 581,452 582,465 583,467 584,465 585,472 586,476 587,467 588,470 589,468 590,447 591,441 592,460 593,477 594,475 595,468 596,457 597,436 598,437 599,455 600,476 601,483 602,472 603,460 604,462 605,470 606,467 607,430 608,445 609,497 610,461 611,467 612,465 613,445 614,464 615,459 616,459 617,474 618,476 619,447 620,446 621,473 622,471 623,448 624,448 625,473 626,485 627,467 628,449 629,454 630,462 631,455 632,456 633,474 634,471 635,469 636,468 637,466 638,458 639,450 640,457 641,470 642,466 643,455 644,458 645,471 646,471 647,456 648,447 649,454 650,467 651,477 652,480 653,464 654,447 655,452 656,466 657,471 658,464 659,458 660,462 661,471 662,469 663,452 664,449 665,464 666,466 667,459 668,462 669,471 670,468 671,459 672,457 673,463 674,461 675,454 676,463 677,478 678,473 679,462 680,463 681,465 682,458 683,451 684,456 685,466 686,466 687,462 688,485 689,470 690,465 691,459 692,454 693,456 694,464 695,466 696,455 697,453 698,468 699,477 700,470 701,458 702,453 703,458 704,469 705,472 706,462 707,450 708,452 709,467 710,474 711,466 712,462 713,458 714,450 715,453 716,468 717,476 718,467 719,454 720,452 721,459 722,470 723,475 724,461 725,448 726,454 727,467 728,471 729,469 730,466 731,459 732,450 733,451 734,463 735,470 736,465 737,461 738,461 739,461 740,463 741,464 742,462 743,460 744,464 745,468 746,466 747,459 748,450 749,453 750,465 751,472 752,467 753,480 754,454 755,460 756,470 757,472 758,461 759,453 760,457 761,458 762,456 763,469 764,477 765,465 766,451 767,454 768,463 769,461 770,452 771,456 772,472 773,478 774,468 775,458 776,460 777,467 778,466 779,461 780,460 781,458 782,456 783,459 784,464 785,459 786,458 787,473 788,476 789,457 790,453 791,459 792,458 793,457 794,461 795,467 796,468 797,464 798,462 799,466 800,465 801,451 802,449 803,469 804,469 805,455 806,458 807,467 808,462 809,455 810,460 811,469 812,470 813,464 814,456 815,450 816,452 817,464 818,470 819,465 820,455 821,453 822,463 823,474 824,474 825,463 826,446 827,444 828,461 829,473 830,469 831,461 832,462 833,460 834,452 835,454 836,465 837,470 838,469 839,466 840,460 841,456 842,462 843,470 844,468 845,453 846,446 847,462 848,476 849,465 850,455 851,462 852,467 853,461 854,455 855,456 856,462 857,464 858,466 859,467 860,467 861,468 862,470 863,457 864,446 865,448 866,471 867,475 868,467 869,467 870,468 871,465 872,464 873,460 874,451 875,451 876,461 877,466 878,463 879,466 880,470 881,460 882,449 883,457 884,470 885,473 886,469 887,462 888,458 889,457 890,459 891,462 892,463 893,459 894,459 895,463 896,464 897,461 898,467 899,470 900,463 901,456 902,453 903,459 904,467 905,470 906,466 907,458 908,452 909,456 910,465 911,467 912,460 913,459 914,468 915,468 916,457 917,452 918,461 919,471 920,469 921,457 922,454 923,465 924,473 925,467 926,456 927,456 928,465 929,463 930,452 931,456 932,472 933,473 934,459 935,458 936,467 937,467 938,457 939,453 940,459 941,464 942,463 943,463 944,465 945,463 946,460 947,462 948,465 949,464 950,459 951,453 952,455 953,466 954,471 955,465 956,459 957,460 958,466 959,465 960,459 961,460 962,461 963,456 964,457 965,467 966,468 967,461 968,459 969,465 970,466 971,464 972,462 973,457 974,453 975,458 976,469 977,468 978,460 979,463 980,465 981,461 982,458 983,457 984,458 985,462 986,465 987,465 988,459 989,456 990,464 991,474 992,469 993,454 994,452 995,463 996,469 997,466 998,461 999,456 1000,456 1001,463 1002,467 1003,461 1004,457 1005,463 1006,470 1007,465 1008,458 1009,461 1010,465 1011,464 1012,459 1013,456 1014,457 1015,460 1016,462 1017,468 1018,473 1019,468 1020,458 1021,454 1022,457 1023,465 1024,468 1025,460 1026,453 1027,458 1028,469 1029,468 1030,462 1031,459 1032,456 1033,457 1034,464 1035,468 1036,465 1037,462 1038,458 1039,454 1040,458 1041,468 1042,470 1043,464 1044,459 1045,458 1046,458 1047,461 1048,467 1049,467 1050,460 1051,455 1052,462 1053,467 1054,461 1055,459 1056,470 1057,470 1058,457 1059,451 1060,457 1061,466 1062,469 1063,461 1064,454 1065,463 1066,472 1067,469 1068,460 1069,458 1070,460 1071,458 1072,457 1073,463 1074,469 1075,467 1076,460 1077,459 1078,464 1079,463 1080,457 1081,453 1082,462 1083,473 1084,470 1085,454 1086,445 1087,463 1088,478 1089,465 1090,459 1091,466 1092,459 1093,452 1094,458 1095,465 1096,469 1097,473 1098,471 1099,455 1100,442 1101,449 1102,467 1103,479 1104,476 1105,461 1106,455 1107,457 1108,460 1109,462 1110,461 1111,454 1112,457 1113,473 1114,474 1115,463 1116,460 1117,462 1118,465 1119,466 1120,461 1121,453 1122,453 1123,461 1124,474 1125,478 1126,465 1127,455 1128,457 1129,456 1130,452 1131,462 1132,475 1133,469 1134,454 1135,448 1136,456 1137,463 1138,462 1139,463 1140,469 1141,469 1142,460 1143,457 1144,464 1145,465 1146,458 1147,456 1148,461 1149,466 1150,466 1151,461 1152,456 1153,461 1154,469 1155,466 1156,458 1157,459 1158,460 1159,457 1160,458 1161,463 1162,468 1163,468 1164,465 1165,465 1166,458 1167,450 1168,456 1169,472 1170,473 1171,457 1172,452 1173,462 1174,466 1175,462 1176,459 1177,461 1178,468 1179,472 1180,467 1181,454 1182,452 1183,461 1184,465 1185,463 1186,461 1187,460 1188,460 1189,462 1190,466 1191,467 1192,465 1193,463 1194,459 1195,455 1196,460 1197,468 1198,467 1199,459 1200,453 1201,457 1202,467 1203,468 1204,461 1205,459 1206,463 1207,465 1208,462 1209,456 1210,454 1211,460 1212,470 1213,471 1214,459 1215,455 1216,467 1217,472 1218,461 1219,454 1220,459 1221,464 1222,464 1223,464 1224,460 1225,455 1226,457 1227,464 1228,471 1229,471 1230,463 1231,453 1232,453 1233,460 1234,466 1235,467 1236,462 1237,456 1238,457 1239,465 1240,470 1241,466 1242,461 1243,459 1244,462 1245,465 1246,463 1247,459 1248,458 1249,464 1250,467 1251,460 1252,455 1253,462 1254,471 1255,468 1256,459 1257,456 1258,459 1259,460 1260,459 1261,464 1262,469 1263,466 1264,455 1265,452 1266,461 1267,471 1268,469 1269,460 1270,457 1271,461 1272,467 1273,469 1274,463 1275,456" fill="none" stroke="#ffff00" stroke-width="1" shape-rendering="crispEdges"/>
<rect x="275" y="167" width="1" height="559" fill="#f878dc"/>
<rect x="298" y="167" width="1" height="559" fill="#78f8d8"/></svg>
</body></html>
